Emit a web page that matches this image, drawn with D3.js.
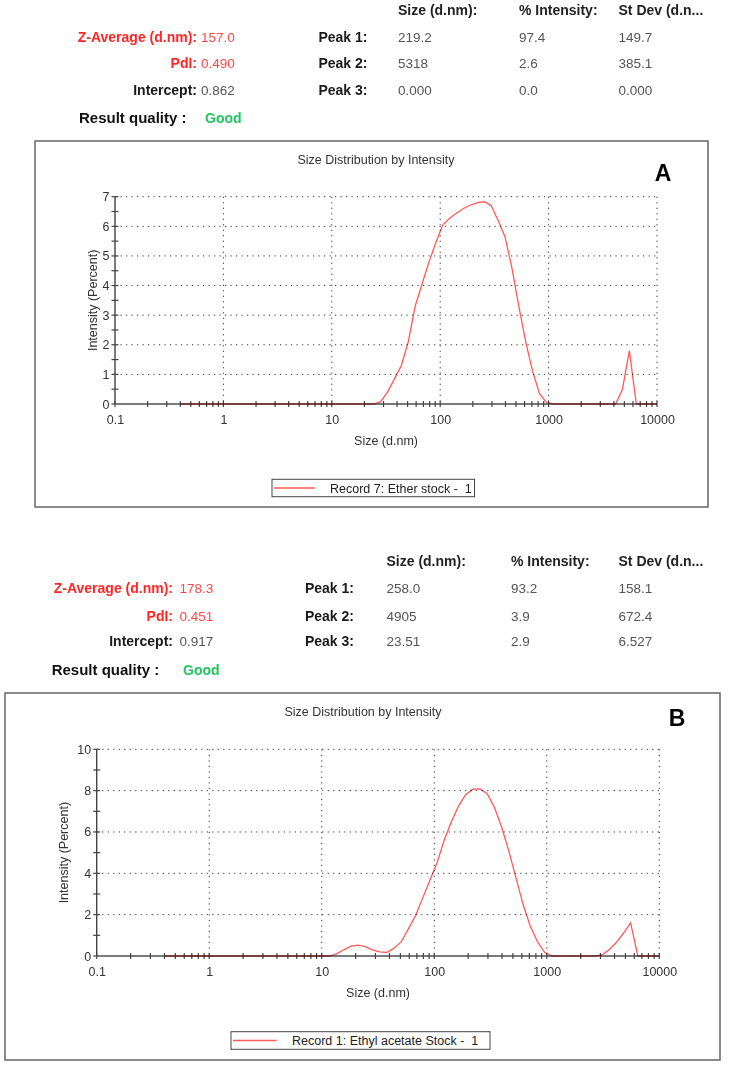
<!DOCTYPE html>
<html><head><meta charset="utf-8">
<script src="https://cdn.jsdelivr.net/npm/d3@7"></script>
<style>
body{margin:0;background:#fff;}
svg{display:block;font-family:"Liberation Sans",Arial,sans-serif;}
</style>
</head><body>
<svg id="c" width="750" height="1075"></svg>
<script>
// ---------- data ----------
const sizes = [0.4, 0.4632, 0.5365, 0.6213, 0.7195, 0.8332, 0.9649, 1.117, 1.294, 1.499,
  1.736, 2.010, 2.328, 2.696, 3.122, 3.615, 4.187, 4.849, 5.615, 6.503,
  7.531, 8.721, 10.10, 11.70, 13.54, 15.69, 18.17, 21.04, 24.36, 28.21,
  32.67, 37.84, 43.82, 50.75, 58.77, 68.06, 78.82, 91.28, 105.7, 122.4,
  141.8, 164.2, 190.1, 220.2, 255.0, 295.3, 342.0, 396.1, 458.7, 531.2,
  615.1, 712.4, 825.0, 955.4, 1106, 1281, 1484, 1718, 1990, 2305,
  2669, 3091, 3580, 4145, 4801, 5560, 6439, 7456, 8635, 10000];
const intensityA = [0,0,0,0,0,0,0,0,0,0,
  0,0,0,0,0,0,0,0,0,0,
  0,0,0,0,0,0,0,0,0,0.08,
  0.4,0.85,1.3,2.1,3.3,4.05,4.8,5.45,6.05,6.27,
  6.45,6.6,6.72,6.8,6.83,6.7,6.2,5.65,4.6,3.3,
  2.1,1.1,0.35,0.05,0,0,0,0,0,0,
  0,0,0,0,0.5,1.8,0,0,0,0];
const intensityB = [0,0,0,0,0,0,0,0,0,0,
  0,0,0,0,0,0,0,0,0,0,
  0,0,0,0,0.1,0.3,0.48,0.53,0.45,0.3,
  0.2,0.17,0.38,0.68,1.3,1.95,2.8,3.65,4.5,5.6,
  6.5,7.25,7.8,8.07,8.08,7.85,7.2,6.25,5.1,3.8,
  2.5,1.45,0.7,0.18,0,0,0,0,0,0,
  0,0.05,0.3,0.65,1.1,1.6,0,0,0,0];
const xTickValues = [0.1, 1, 10, 100, 1000, 10000];
const xTickLabels = ["0.1", "1", "10", "100", "1000", "10000"];
const yTicksA = [0, 1, 2, 3, 4, 5, 6, 7];
const yTicksB = [0, 2, 4, 6, 8, 10];
const tableHeaders = ["Size (d.nm):", "% Intensity:", "St Dev (d.n..."];
const peakLabels = ["Peak 1:", "Peak 2:", "Peak 3:"];
const summaryLabels = ["Z-Average (d.nm):", "PdI:", "Intercept:"];
const summaryA = ["157.0", "0.490", "0.862"];
const summaryB = ["178.3", "0.451", "0.917"];
const peaksA = [["219.2", "97.4", "149.7"], ["5318", "2.6", "385.1"], ["0.000", "0.0", "0.000"]];
const peaksB = [["258.0", "93.2", "158.1"], ["4905", "3.9", "672.4"], ["23.51", "2.9", "6.527"]];
const qualityLabel = "Result quality :";
const qualityA = "Good";
const qualityB = "Good";
const chartTitle = "Size Distribution by Intensity";
const xAxisTitle = "Size (d.nm)";
const yAxisTitle = "Intensity (Percent)";
const legendA = "Record 7: Ether stock -  1";
const legendB = "Record 1: Ethyl acetate Stock -  1";

// ---------- drawing ----------
const svg = d3.select("#c");

function table(cfg) {
  const g = svg.append("g");
  tableHeaders.forEach((h, i) => {
    g.append("text").attr("x", cfg.cols[i]).attr("y", cfg.headY)
      .attr("font-size", 14).attr("font-weight", "bold").attr("fill", "#222").text(h);
  });
  summaryLabels.forEach((l, i) => {
    const red = i < 2;
    g.append("text").attr("x", cfg.lblRight).attr("y", cfg.rows[i])
      .attr("text-anchor", "end").attr("font-size", 14).attr("font-weight", "bold")
      .attr("fill", red ? "#ff2626" : "#1a1a1a").text(l);
    g.append("text").attr("x", cfg.valLeft).attr("y", cfg.rows[i])
      .attr("font-size", 13.5).attr("fill", red ? "#ff4848" : "#555").text(cfg.summary[i]);
  });
  peakLabels.forEach((l, i) => {
    g.append("text").attr("x", cfg.peakRight).attr("y", cfg.rows[i])
      .attr("text-anchor", "end").attr("font-size", 14).attr("font-weight", "bold")
      .attr("fill", "#1a1a1a").text(l);
    cfg.peaks[i].forEach((v, j) => {
      g.append("text").attr("x", cfg.cols[j]).attr("y", cfg.rows[i])
        .attr("font-size", 13.5).attr("fill", "#555").text(v);
    });
  });
  g.append("text").attr("x", cfg.qLeft).attr("y", cfg.qY)
    .attr("font-size", 15).attr("font-weight", "bold").attr("fill", "#111").text(qualityLabel);
  g.append("text").attr("x", cfg.goodLeft).attr("y", cfg.qY)
    .attr("font-size", 14).attr("font-weight", "bold").attr("fill", "#22c55e").text(cfg.quality);
}

function panel(cfg) {
  const g = svg.append("g");
  const [bx, by, bw, bh] = cfg.box;
  g.append("rect").attr("x", bx).attr("y", by).attr("width", bw).attr("height", bh)
    .attr("fill", "#fff").attr("stroke", "#666").attr("stroke-width", 1.5);

  const x = d3.scaleLog().domain([0.1, 10000]).range([cfg.px0, cfg.px1]);
  const y = d3.scaleLinear().domain([0, cfg.ymax]).range([cfg.py0, cfg.py1]);

  g.append("text").attr("x", cfg.titleX).attr("y", cfg.titleY).attr("text-anchor", "middle")
    .attr("font-size", 12.5).attr("fill", "#333").text(chartTitle);
  g.append("text").attr("x", cfg.letterX).attr("y", cfg.letterY).attr("text-anchor", "middle")
    .attr("font-size", 23).attr("font-weight", "bold").attr("fill", "#000").text(cfg.letter);

  // grid
  const dash = "1.2,4.3";
  g.selectAll(".hg").data(cfg.yTicks.filter(v => v > 0)).join("line")
    .attr("x1", cfg.px0).attr("x2", cfg.px1).attr("y1", d => y(d)).attr("y2", d => y(d))
    .attr("stroke", "#333").attr("stroke-width", 1).attr("stroke-dasharray", dash);
  g.selectAll(".vg").data(xTickValues.filter(v => v > 0.1)).join("line")
    .attr("x1", d => x(d)).attr("x2", d => x(d)).attr("y1", cfg.py1).attr("y2", cfg.py0)
    .attr("stroke", "#333").attr("stroke-width", 1).attr("stroke-dasharray", dash);

  // y axis
  g.append("line").attr("x1", cfg.px0).attr("x2", cfg.px0).attr("y1", cfg.py0).attr("y2", cfg.py1)
    .attr("stroke", "#444").attr("stroke-width", 1.4);
  g.selectAll(".yt").data(y.ticks(cfg.minorCount)).join("line")
    .attr("x1", cfg.px0 - 3.5).attr("x2", cfg.px0 + 3.5).attr("y1", d => y(d)).attr("y2", d => y(d))
    .attr("stroke", "#444").attr("stroke-width", 1.2);
  const ya = g.append("g").attr("transform", `translate(${cfg.px0},0)`)
    .call(d3.axisLeft(y).tickValues(cfg.yTicks).tickFormat(d3.format("d")).tickSize(0).tickPadding(5.5));
  ya.select(".domain").remove();
  ya.selectAll("text").attr("font-size", 12.5).attr("fill", "#333").attr("font-family", "Liberation Sans, Arial, sans-serif");

  // x axis
  g.append("line").attr("x1", cfg.px0).attr("x2", cfg.px1).attr("y1", cfg.py0).attr("y2", cfg.py0)
    .attr("stroke", "#7a7a7a").attr("stroke-width", 2);
  g.selectAll(".xt").data(x.ticks()).join("line")
    .attr("x1", d => x(d)).attr("x2", d => x(d)).attr("y1", cfg.py0 - 3).attr("y2", cfg.py0 + 3)
    .attr("stroke", "#444").attr("stroke-width", 1.2);
  const xa = g.append("g").attr("transform", `translate(0,${cfg.py0})`)
    .call(d3.axisBottom(x).tickValues(xTickValues).tickFormat((d, i) => xTickLabels[i]).tickSize(0).tickPadding(cfg.xPad));
  xa.select(".domain").remove();
  xa.selectAll("text").attr("font-size", 12.5).attr("fill", "#333").attr("font-family", "Liberation Sans, Arial, sans-serif");

  // axis titles
  g.append("text").attr("x", (cfg.px0 + cfg.px1) / 2).attr("y", cfg.xTitleY).attr("text-anchor", "middle")
    .attr("font-size", 12.5).attr("fill", "#333").text(xAxisTitle);
  g.append("text").attr("transform", `translate(${cfg.yTitleX},${(cfg.py0 + cfg.py1) / 2}) rotate(-90)`)
    .attr("text-anchor", "middle").attr("font-size", 12.5).attr("fill", "#333").text(yAxisTitle);

  // data line
  const pts = sizes.map((s, i) => ({ s, v: cfg.values[i] }));
  g.append("path").datum(pts)
    .attr("d", d3.line().x(d => x(d.s)).y(d => y(d.v)))
    .attr("fill", "none").attr("stroke", "#ff5a5a").attr("stroke-width", 1.3)
    .style("mix-blend-mode", "multiply");

  // legend
  const [lx, ly, lw, lh] = cfg.legend;
  g.append("rect").attr("x", lx).attr("y", ly).attr("width", lw).attr("height", lh)
    .attr("fill", "#fff").attr("stroke", "#444").attr("stroke-width", 1);
  g.append("line").attr("x1", lx + 2).attr("x2", lx + cfg.legLine).attr("y1", ly + lh / 2).attr("y2", ly + lh / 2)
    .attr("stroke", "#ff5a5a").attr("stroke-width", 1.3);
  g.append("text").attr("x", lx + cfg.legText).attr("y", ly + lh / 2 + 4.5)
    .attr("font-size", 12.5).attr("fill", "#222").style("white-space", "pre").text(cfg.legendText);
}

table({ headY: 15, rows: [41.5, 68, 95], lblRight: 197, valLeft: 201, peakRight: 367.5,
  cols: [398, 519, 618.5], qLeft: 79, goodLeft: 205, qY: 122.5,
  summary: summaryA, peaks: peaksA, quality: qualityA });

panel({ box: [35, 141, 673, 366], px0: 115, px1: 657, py0: 404, py1: 196.7, ymax: 7,
  yTicks: yTicksA, minorCount: 14, xPad: 11, titleX: 376, titleY: 164, letterX: 663, letterY: 181,
  letter: "A", xTitleY: 444.5, yTitleX: 96.5, values: intensityA,
  legend: [272, 479.3, 202.5, 17.4], legLine: 43, legText: 58, legendText: legendA });

table({ headY: 566, rows: [593, 620.5, 646], lblRight: 173, valLeft: 179.5, peakRight: 354,
  cols: [386.5, 511, 618.5], qLeft: 51.7, goodLeft: 183, qY: 674.5,
  summary: summaryB, peaks: peaksB, quality: qualityB });

panel({ box: [5, 693, 715, 367], px0: 96.7, px1: 659.3, py0: 956, py1: 749.3, ymax: 10,
  yTicks: yTicksB, minorCount: 10, xPad: 11.5, titleX: 363, titleY: 716, letterX: 677, letterY: 726,
  letter: "B", xTitleY: 997, yTitleX: 67.5, values: intensityB,
  legend: [231, 1031.7, 259, 17.6], legLine: 45.6, legText: 61, legendText: legendB });
</script>
</body></html>
